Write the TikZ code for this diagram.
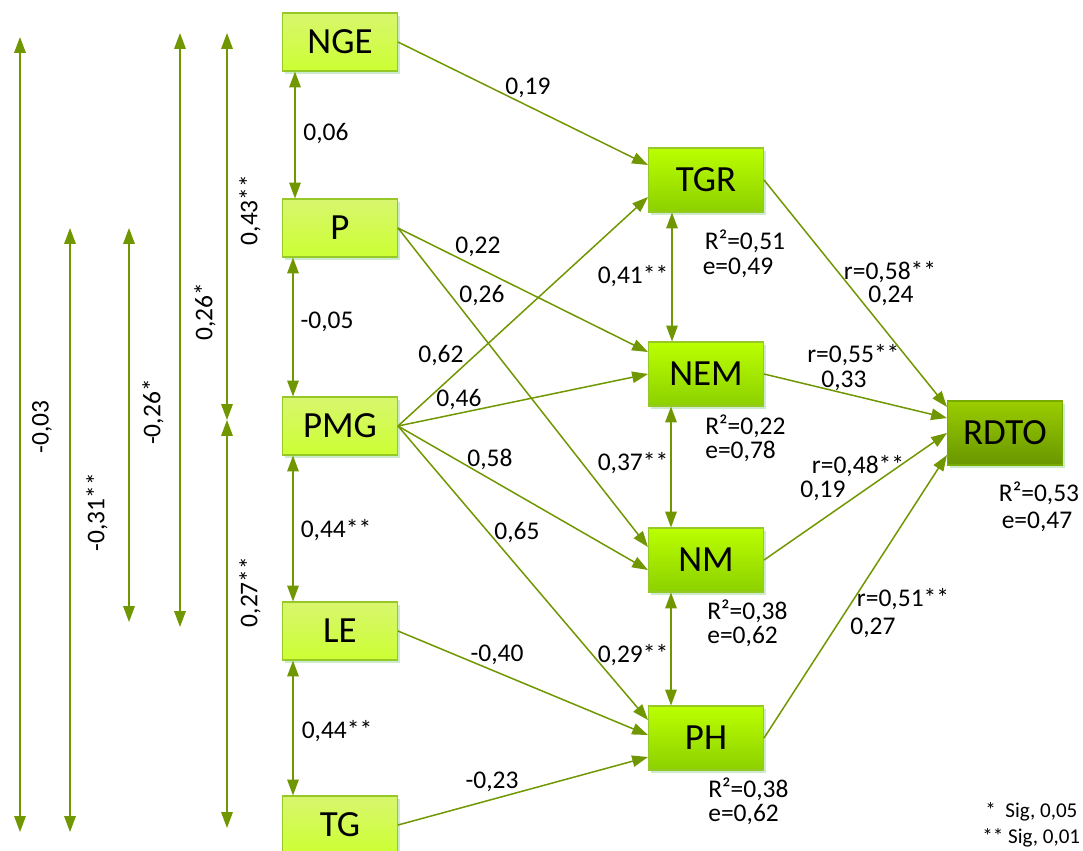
\documentclass[tikz,border=0pt]{standalone}
\usepackage{fontspec}
\setmainfont{Carlito}
\usetikzlibrary{arrows.meta,shadows}
\definecolor{pathgreen}{RGB}{112,150,0}
\definecolor{boxedge}{RGB}{150,200,40}
\begin{document}
\begin{tikzpicture}[x=0.02cm,y=-0.02cm]
\tikzstyle{every node}=[font=\fontsize{14.5}{16}\selectfont, inner sep=0pt];
\tikzstyle{varbox}=[draw=boxedge, line width=0.6pt, minimum width=2.3cm, font=\fontsize{21}{24}\selectfont,
  drop shadow={shadow xshift=1.5pt, shadow yshift=-1.5pt, fill=black!40!green!40, opacity=0.5}];
\tikzstyle{inbox}=[varbox, minimum height=1.16cm, top color={rgb,255:red,216;green,246;blue,110}, bottom color={rgb,255:red,204;green,255;blue,51}];
\tikzstyle{midbox}=[varbox, minimum height=1.28cm, top color={rgb,255:red,187;green,255;blue,0}, bottom color={rgb,255:red,140;green,208;blue,0}];
\tikzstyle{outbox}=[varbox, draw={rgb,255:red,120;green,170;blue,0}, minimum height=1.28cm, top color={rgb,255:red,155;green,205;blue,0}, bottom color={rgb,255:red,104;green,150;blue,0}];
\tikzstyle{lbl}=[draw=none];
\tikzstyle{twoline}=[draw=none, align=left, anchor=north west, font=\fontsize{14.5}{14}\selectfont];
\tikzstyle{path}=[draw=pathgreen, line width=0.85pt, -{Triangle[length=9pt,width=6.5pt]}];
\tikzstyle{both}=[path, {Triangle[length=9pt,width=6.5pt]}-{Triangle[length=9pt,width=6.5pt]}];
\useasboundingbox (0,0) rectangle (1083,850);

% exogenous variables
\node[inbox] (nge) at (340,42)  {NGE};
\node[inbox] (p)   at (340,228) {P};
\node[inbox] (pmg) at (340,426) {PMG};
\node[inbox] (le)  at (340,631) {LE};
\node[inbox] (tg)  at (340,825) {TG};
% components
\node[midbox] (tgr) at (706,180) {TGR};
\node[midbox] (nem) at (706,374) {NEM};
\node[midbox] (nm)  at (706,560) {NM};
\node[midbox] (ph)  at (706,738) {PH};
\node[outbox] (rdto) at (1005,433) {RDTO};

% correlations on the left
\coordinate (a1) at (20,37);   \coordinate (a2) at (20,832);
\coordinate (b1) at (70,228);  \coordinate (b2) at (70,832);
\coordinate (c1) at (129,228); \coordinate (c2) at (129,622);
\coordinate (d1) at (180,33);  \coordinate (d2) at (180,627);
\coordinate (e1) at (227,33);  \coordinate (e2) at (227,420);
\coordinate (e3) at (227,828);
\draw[both] (a1) -- (a2);
\draw[both] (b1) -- (b2);
\draw[both] (c1) -- (c2);
\draw[both] (d1) -- (d2);
\draw[both] (e1) -- (e2);
\draw[both] (e2) -- (e3);
\node[lbl, rotate=90] at (42,427)  {-0,03};
\node[lbl, rotate=90] at (97,512)  {-0,31**};
\node[lbl, rotate=90] at (153,412) {-0,26*};
\node[lbl, rotate=90] at (205,312) {0,26*};
\node[lbl, rotate=90] at (250,210) {0,43**};
\node[lbl, rotate=90] at (250,592) {0,27**};

\draw[both] ([shift={(-45,0)}]nge.south) -- ([shift={(-45,0)}]p.north);
\draw[both] ([shift={(-47,0)}]p.south) -- ([shift={(-47,0)}]pmg.north);
\draw[both] ([shift={(-47,0)}]pmg.south) -- ([shift={(-47,0)}]le.north);
\draw[both] ([shift={(-47,0)}]le.south) -- ([shift={(-47,0)}]tg.north);
\node[lbl] at (326,134) {0,06};
\node[lbl] at (327,322) {-0,05};
\node[lbl] at (336,530) {0,44**};
\node[lbl] at (337,731) {0,44**};

\draw[both] ([shift={(-34,0)}]tgr.south) -- ([shift={(-34,0)}]nem.north);
\draw[both] ([shift={(-35,0)}]nem.south) -- ([shift={(-35,0)}]nm.north);
\draw[both] ([shift={(-35,0)}]nm.south) -- ([shift={(-35,0)}]ph.north);
\node[lbl] at (633,276) {0,41**};
\node[lbl] at (633,463) {0,37**};
\node[lbl] at (633,655) {0,29**};

% direct effects
\draw[path] (nge.east) -- ([shift={(0,-15)}]tgr.west);
\draw[path] (p.east)   -- ([shift={(0,-22)}]nem.west);
\draw[path] (p.east)   -- ([shift={(0,-13)}]nm.west);
\draw[path] (pmg.east) -- ([shift={(0,17)}]tgr.west);
\draw[path] (pmg.east) -- (nem.west);
\draw[path] (pmg.east) -- ([shift={(0,10)}]nm.west);
\draw[path] (pmg.east) -- ([shift={(0,-18)}]ph.west);
\draw[path] (le.east)  -- ([shift={(0,-3)}]ph.west);
\draw[path] (tg.east)  -- ([shift={(0,19)}]ph.west);
\node[lbl] at (528,88)  {0,19};
\node[lbl] at (478,247) {0,22};
\node[lbl] at (482,296) {0,26};
\node[lbl] at (441,356) {0,62};
\node[lbl] at (459,400) {0,46};
\node[lbl] at (490,459) {0,58};
\node[lbl] at (517,533) {0,65};
\node[lbl] at (497,655) {-0,40};
\node[lbl] at (492,782) {-0,23};

\draw[path] (tgr.east) -- ([shift={(0,-26)}]rdto.west);
\draw[path] (nem.east) -- ([shift={(0,-15)}]rdto.west);
\draw[path] (nm.east)  -- (rdto.west);
\draw[path] (ph.east)  -- ([shift={(0,22)}]rdto.west);
\node[lbl] at (890,272) {r=0,58**};
\node[lbl] at (891,296) {0,24};
\node[twoline] at (807,344) {r=0,55**\\\hspace*{0.28cm}0,33};
\node[lbl] at (858,466) {r=0,48**};
\node[lbl] at (823,491) {0,19};
\node[lbl] at (903,599) {r=0,51**};
\node[lbl] at (873,628) {0,27};

% explained variance
\node[lbl] at (745,241)  {R²=0,51};
\node[lbl] at (738,268)  {e=0,49};
\node[twoline] at (705,414) {R²=0,22\\e=0,78};
\node[twoline] at (707,599) {R²=0,38\\e=0,62};
\node[twoline] at (708,777) {R²=0,38\\e=0,62};
\node[lbl] at (1039,493) {R²=0,53};
\node[lbl] at (1037,522) {e=0,47};

\node[lbl, anchor=west, font=\fontsize{12}{14}\selectfont] at (985,812) {*\ \ Sig, 0,05};
\node[lbl, anchor=west, font=\fontsize{12}{14}\selectfont] at (982,838) {** Sig, 0,01};
\end{tikzpicture}
\end{document}
